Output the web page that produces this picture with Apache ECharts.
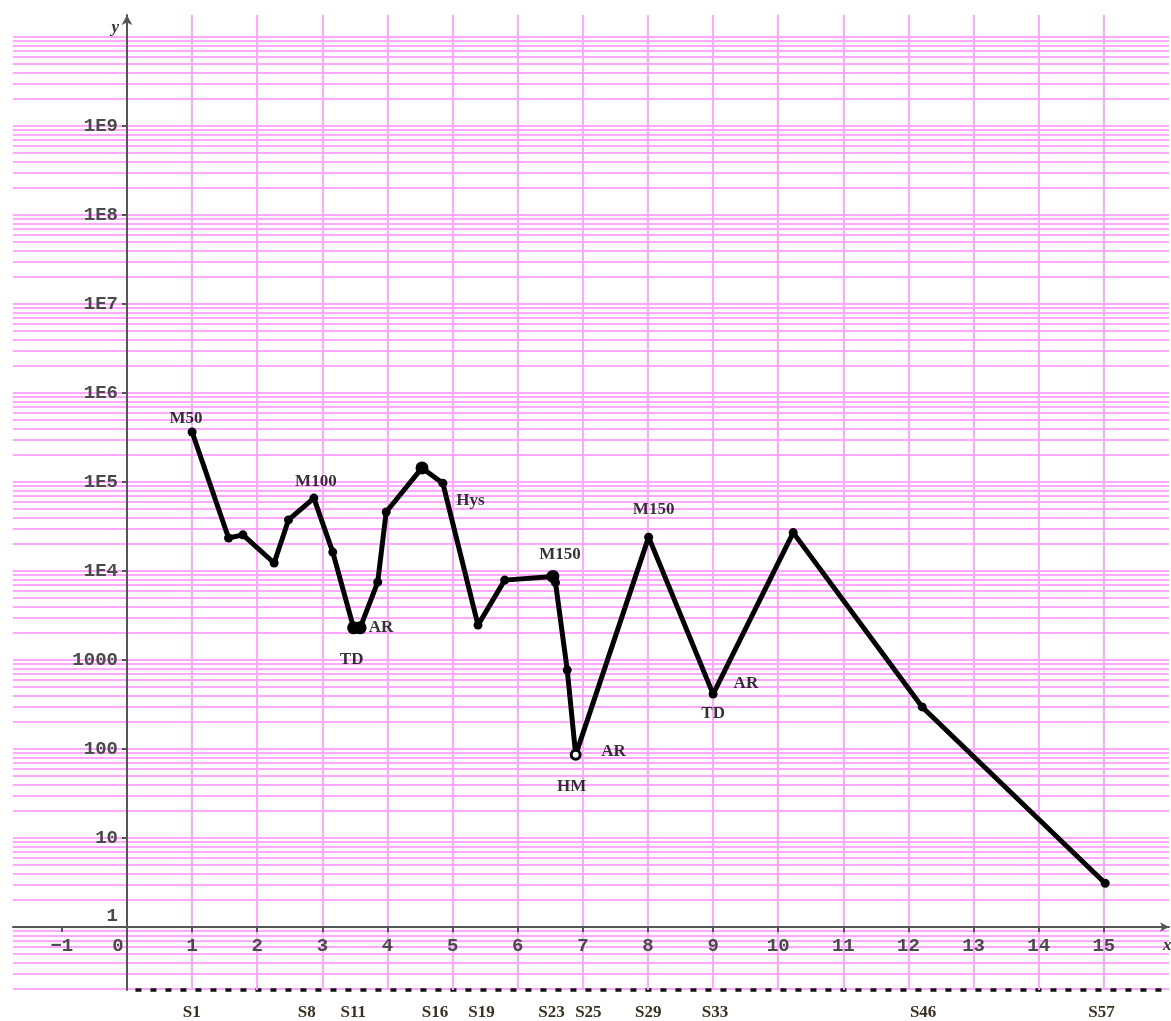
<!DOCTYPE html>
<html><head><meta charset="utf-8">
<script src="https://cdn.jsdelivr.net/npm/echarts@6/dist/echarts.min.js"></script>
<style>html,body{margin:0;padding:0;background:#fff}#c{width:1171px;height:1021px}</style>
</head><body><div id="c"></div>
<script>
// ---- data ----
const xValues = [1.00, 1.56, 1.78, 2.26, 2.48, 2.87, 3.16, 3.48, 3.58, 3.85, 3.98, 4.53, 4.85, 5.39, 5.80, 6.54, 6.58, 6.76, 6.89, 8.01, 9.00, 10.23, 12.21, 15.02];
const yValues = [3.65e5, 2.35e4, 2.55e4, 1.23e4, 3.75e4, 6.6e4, 1.63e4, 2.3e3, 2.3e3, 7.5e3, 4.6e4, 1.44e5, 9.7e4, 2.47e3, 7.9e3, 8.7e3, 7.4e3, 7.7e2, 86, 2.4e4, 414, 2.7e4, 297, 3.1];
const annotationText  = ['M50', 'M100', 'TD', 'AR', 'Hys', 'M150', 'HM', 'AR', 'M150', 'TD', 'AR'];
const annotationPoint = [0, 5, 7, 8, 12, 15, 18, 18, 19, 20, 20];
const xTickValues = [-1, 0, 1, 2, 3, 4, 5, 6, 7, 8, 9, 10, 11, 12, 13, 14, 15];
const yTickValues = [1, 10, 100, 1000, 1e4, 1e5, 1e6, 1e7, 1e8, 1e9];
const sampleLabels    = ['S1', 'S8', 'S11', 'S16', 'S19', 'S23', 'S25', 'S29', 'S33', 'S46', 'S57'];
const samplePositions = [0.995, 2.76, 3.475, 4.73, 5.445, 6.52, 7.085, 8.005, 9.03, 12.225, 14.965];

// ---- layout / style ----
const X_MIN = -1.75, X_MAX = 16, Y_MIN = 0.196, Y_MAX = 1.767e10;
const GRID_LEFT = 13, GRID_RIGHT = 2;
const PX_PER_X = (1171 - GRID_LEFT - GRID_RIGHT) / (X_MAX - X_MIN);
const Y_AXIS_OFFSET = -(0 - X_MIN) * PX_PER_X; // places the y axis at x = 0
const DASH_X0 = 0.13;
const annotationLayout = [
  {position:'top', distance:4, offset:[-6,0]},
  {position:'top', distance:7, offset:[2,0]},
  {position:'bottom', distance:23, offset:[-2,0]},
  {position:'right', distance:8, offset:[0,0]},
  {position:'right', distance:13, offset:[0,17]},
  {position:'top', distance:13, offset:[7,0]},
  {position:'bottom', distance:23, offset:[-4,0]},
  {position:'right', distance:25, offset:[0,-3]},
  {position:'top', distance:19, offset:[5,0]},
  {position:'bottom', distance:11, offset:[0,0]},
  {position:'right', distance:20, offset:[0,-10]}
];
const bigPoints = [7, 8, 11, 15];
const hollowPoints = [18];
const PINK = '#ffa8ff';
const AXIS = '#555555';
const monoFont = {fontFamily:'Liberation Mono', fontWeight:'bold', fontSize:19, color:'#4a4a4a'};

// minor log grid lines (1..9 x 10^k)
const hLines = [];
for (let k = -1; k <= 9; k++) {
  for (let m = 1; m <= 9; m++) {
    const v = m * Math.pow(10, k);
    if (v >= 0.2 && v <= 1e10) hLines.push(v);
  }
}
hLines.push(1e10);

const mainData = xValues.map((x, i) => {
  const item = {value: [x, yValues[i]]};
  if (bigPoints.includes(i)) item.symbolSize = 13;
  if (hollowPoints.includes(i)) item.itemStyle = {color:'#fff', borderColor:'#000', borderWidth:3};
  return item;
});

const annData = annotationText.map((t, j) => {
  const i = annotationPoint[j];
  const L = annotationLayout[j];
  return {
    value: [xValues[i], yValues[i]],
    label: {show:true, formatter: t, position: L.position, distance: L.distance, offset: L.offset}
  };
});

const chart = echarts.init(document.getElementById('c'), null, {renderer:'canvas'});
chart.setOption({
  animation: false,
  backgroundColor: '#ffffff',
  grid: {left: GRID_LEFT, right: GRID_RIGHT, top: 15, bottom: 31, containLabel: false, outerBoundsMode: 'none'},
  xAxis: [
    {
      type: 'value', min: X_MIN, max: X_MAX, minInterval: 1, maxInterval: 1,
      position: 'bottom', offset: -63, z: 2,
      axisLine: {show: true, onZero: false, lineStyle: {color: AXIS, width: 2}, symbol: ['none', 'arrow'], symbolSize: [7, 9]},
      axisTick: {show: true, customValues: xTickValues, length: 5, lineStyle: {color: AXIS, width: 2}},
      axisLabel: Object.assign({
        customValues: xTickValues, margin: 10,
        formatter: v => v === 0 ? '{z|0}' : (v < 0 ? '\u2212' + Math.abs(v) : String(v)),
        rich: {z: {padding: [0, 18, 0, 0], fontFamily:'Liberation Mono', fontWeight:'bold', fontSize:19, color:'#4a4a4a'}}
      }, monoFont),
      splitLine: {show: true, showMinLine: false, lineStyle: {color: PINK, width: 2}},
      name: 'x', nameLocation: 'end', nameGap: -6,
      nameTextStyle: {align: 'left', verticalAlign: 'top', padding: [10, 0, 0, 0], fontFamily: 'Liberation Serif', fontStyle: 'italic', fontWeight: 'bold', fontSize: 17, color: '#333'}
    },
    {
      type: 'value', min: X_MIN, max: X_MAX, position: 'bottom', offset: 0, z: 2,
      axisLine: {show: false}, axisTick: {show: false}, splitLine: {show: false},
      axisLabel: {
        customValues: samplePositions, margin: 14,
        formatter: v => sampleLabels[samplePositions.indexOf(v)] || '',
        fontFamily: 'Liberation Serif', fontWeight: 'bold', fontSize: 17, color: '#3a3022'
      }
    }
  ],
  yAxis: {
    type: 'log', logBase: 10, min: Y_MIN, max: Y_MAX, z: 3,
    position: 'left', offset: Y_AXIS_OFFSET,
    axisLine: {show: true, onZero: false, lineStyle: {color: AXIS, width: 2}, symbol: ['none', 'arrow'], symbolSize: [8, 10]},
    axisTick: {show: true, customValues: yTickValues, length: 5, lineStyle: {color: AXIS, width: 2}},
    axisLabel: Object.assign({
      customValues: yTickValues, margin: 9,
      formatter: v => v === 1 ? '{o|1}' : (v >= 1e4 ? '1E' + Math.round(Math.log10(v)) : String(Math.round(v))),
      rich: {o: {padding: [0, 0, 22, 0], fontFamily:'Liberation Mono', fontWeight:'bold', fontSize:19, color:'#4a4a4a'}}
    }, monoFont),
    splitLine: {show: false},
    name: 'y', nameLocation: 'end', nameGap: -13,
    nameTextStyle: {align: 'right', verticalAlign: 'middle', padding: [0, 8, 0, 0], fontFamily: 'Liberation Serif', fontStyle: 'italic', fontWeight: 'bold', fontSize: 17, color: '#333'}
  },
  series: [
    {
      type: 'line', data: mainData, z: 5, clip: false,
      symbol: 'circle', symbolSize: 9, showAllSymbol: true,
      lineStyle: {color: '#000', width: 5}, itemStyle: {color: '#000'},
      markLine: {
        silent: true, z: 1, symbol: ['none', 'none'], animation: false,
        label: {show: false},
        lineStyle: {color: PINK, width: 2, type: 'solid'},
        emphasis: {disabled: true},
        data: hLines.map(v => ({yAxis: v})).concat([[
          {coord: [DASH_X0, Y_MIN], lineStyle: {color: '#111', width: 3.5, type: [6, 9]}},
          {coord: [X_MAX, Y_MIN]}
        ]])
      }
    },
    {
      type: 'scatter', data: annData, z: 6, silent: true,
      symbol: 'circle', symbolSize: 1, itemStyle: {color: 'rgba(0,0,0,0)'},
      label: {show: true, fontFamily: 'Liberation Serif', fontWeight: 'bold', fontSize: 17, color: '#000'}
    }
  ]
});
</script>
</body></html>
